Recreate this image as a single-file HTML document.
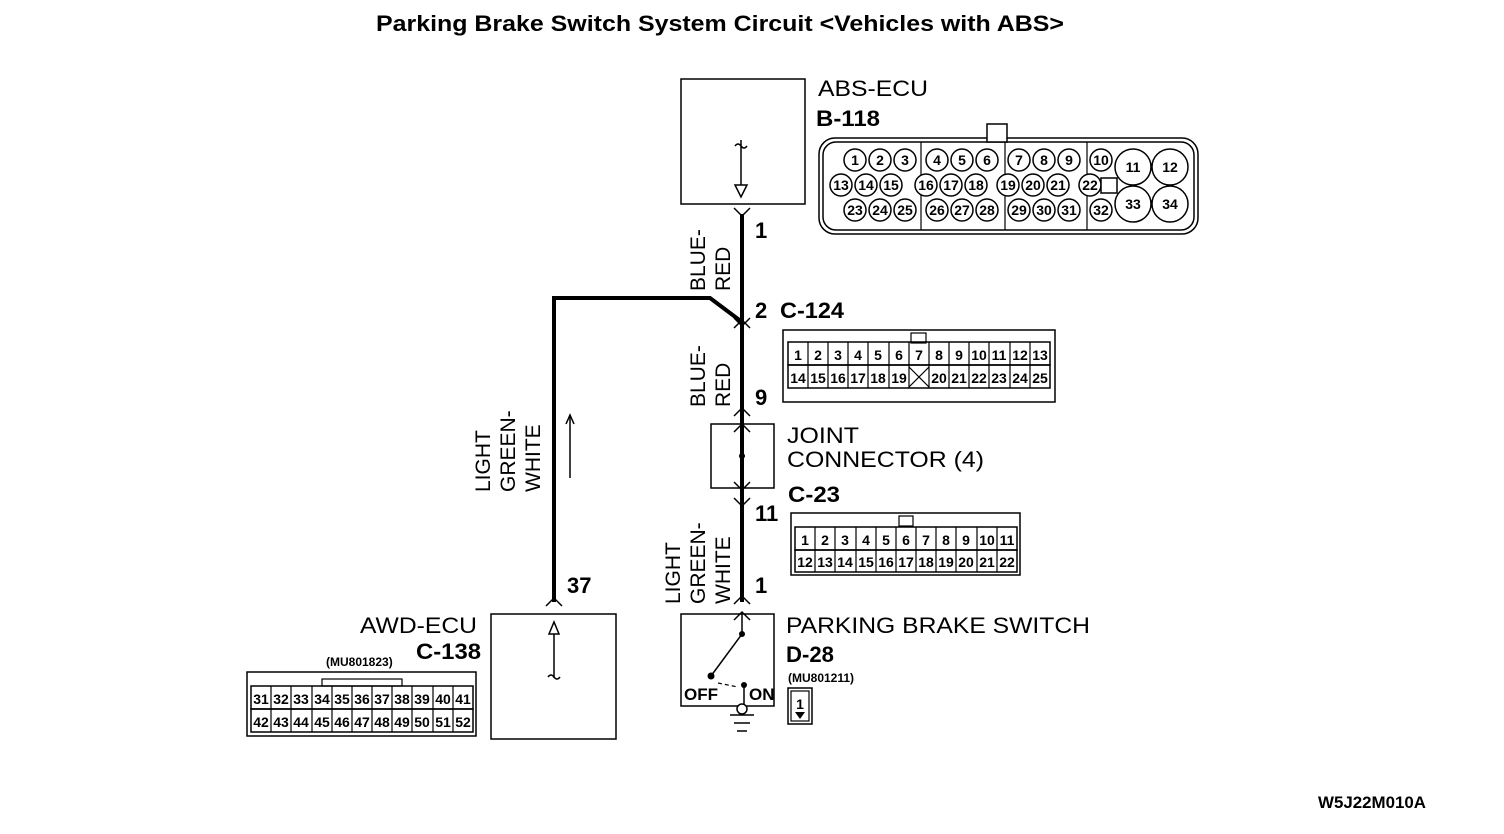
<!DOCTYPE html>
<html><head><meta charset="utf-8"><style>
html,body{margin:0;padding:0;background:#fff;}
svg{display:block;}
text{font-family:"Liberation Sans",sans-serif;fill:#000;}
.b{font-weight:bold;}
.n{font-size:14px;font-weight:bold;}
</style></head><body>
<svg width="1504" height="834" viewBox="0 0 1504 834" xmlns="http://www.w3.org/2000/svg">
<rect width="1504" height="834" fill="#fff"/>
<text x="376" y="31" class="b" font-size="22" textLength="688" lengthAdjust="spacingAndGlyphs">Parking Brake Switch System Circuit &lt;Vehicles with ABS&gt;</text>

<!-- ABS ECU box -->
<rect x="681" y="79" width="124" height="125" fill="none" stroke="#000" stroke-width="1.5"/>
<line x1="741" y1="140" x2="741" y2="185" stroke="#000" stroke-width="1.5"/>
<path d="M735 146 q3 -4 6 0 q3 4 6 0" fill="none" stroke="#000" stroke-width="1.5"/>
<path d="M735 185 L747 185 L741 197 Z" fill="#fff" stroke="#000" stroke-width="1.5"/>
<text x="818" y="96" font-size="22" textLength="110" lengthAdjust="spacingAndGlyphs">ABS-ECU</text>
<text x="816" y="126" font-size="22" class="b" textLength="64" lengthAdjust="spacingAndGlyphs">B-118</text>

<!-- ABS connector -->
<rect x="819" y="138" width="379" height="96" rx="16" fill="none" stroke="#000" stroke-width="1.5"/>
<rect x="823" y="142" width="371" height="88" rx="13" fill="none" stroke="#000" stroke-width="1.5"/>
<rect x="987" y="124" width="20" height="18" fill="#fff" stroke="#000" stroke-width="1.5"/>
<g stroke="#000" stroke-width="1.2">
<line x1="921" y1="142" x2="921" y2="230"/><line x1="1005" y1="142" x2="1005" y2="230"/><line x1="1087" y1="142" x2="1087" y2="230"/>
</g>
<g fill="#fff" stroke="#000" stroke-width="1.5">
<circle cx="855" cy="160" r="11"/><circle cx="880" cy="160" r="11"/><circle cx="905" cy="160" r="11"/>
<circle cx="937" cy="160" r="11"/><circle cx="962" cy="160" r="11"/><circle cx="987" cy="160" r="11"/>
<circle cx="1019" cy="160" r="11"/><circle cx="1044" cy="160" r="11"/><circle cx="1069" cy="160" r="11"/>
<circle cx="1101" cy="160" r="11"/>
<circle cx="841" cy="185" r="11"/><circle cx="866" cy="185" r="11"/><circle cx="891" cy="185" r="11"/>
<circle cx="926" cy="185" r="11"/><circle cx="951" cy="185" r="11"/><circle cx="976" cy="185" r="11"/>
<circle cx="1008" cy="185" r="11"/><circle cx="1033" cy="185" r="11"/><circle cx="1058" cy="185" r="11"/>
<circle cx="1090" cy="185" r="11"/>
<circle cx="855" cy="210" r="11"/><circle cx="880" cy="210" r="11"/><circle cx="905" cy="210" r="11"/>
<circle cx="937" cy="210" r="11"/><circle cx="962" cy="210" r="11"/><circle cx="987" cy="210" r="11"/>
<circle cx="1019" cy="210" r="11"/><circle cx="1044" cy="210" r="11"/><circle cx="1069" cy="210" r="11"/>
<circle cx="1101" cy="210" r="11"/>
<circle cx="1133" cy="167" r="18"/><circle cx="1170" cy="167" r="18"/>
<circle cx="1133" cy="204" r="18"/><circle cx="1170" cy="204" r="18"/>
<rect x="1101" y="178" width="16" height="15"/>
</g>
<g class="n" text-anchor="middle">
<text x="855" y="165">1</text><text x="880" y="165">2</text><text x="905" y="165">3</text>
<text x="937" y="165">4</text><text x="962" y="165">5</text><text x="987" y="165">6</text>
<text x="1019" y="165">7</text><text x="1044" y="165">8</text><text x="1069" y="165">9</text><text x="1101" y="165">10</text>
<text x="841" y="190">13</text><text x="866" y="190">14</text><text x="891" y="190">15</text>
<text x="926" y="190">16</text><text x="951" y="190">17</text><text x="976" y="190">18</text>
<text x="1008" y="190">19</text><text x="1033" y="190">20</text><text x="1058" y="190">21</text><text x="1090" y="190">22</text>
<text x="855" y="215">23</text><text x="880" y="215">24</text><text x="905" y="215">25</text>
<text x="937" y="215">26</text><text x="962" y="215">27</text><text x="987" y="215">28</text>
<text x="1019" y="215">29</text><text x="1044" y="215">30</text><text x="1069" y="215">31</text><text x="1101" y="215">32</text>
<text x="1133" y="172">11</text><text x="1170" y="172">12</text><text x="1133" y="209">33</text><text x="1170" y="209">34</text>
</g>

<!-- wires -->
<g stroke="#000" stroke-width="4" fill="none">
<line x1="742" y1="214" x2="742" y2="602"/>
<polyline points="742,322 710,298 554,298 554,602"/>
</g>
<g stroke="#000" stroke-width="1.5" fill="none">
<polyline points="734,208 742,216 750,208"/>
<polyline points="734,318 742,326 750,318"/><polyline points="734,328 742,320 750,328"/>
<polyline points="734,416 742,408 750,416"/>
<polyline points="734,432 742,424 750,432"/>
<polyline points="734,482 742,490 750,482"/><polyline points="734,498 742,506 750,498"/>
<polyline points="734,604 742,596 750,604"/><polyline points="734,620 742,612 750,620"/>
<polyline points="546,606 554,598 562,606"/>
<line x1="570" y1="415" x2="570" y2="478"/><polyline points="566,424 570,415 574,424"/>
</g>
<text x="755" y="238" font-size="22" class="b">1</text>
<text x="755" y="318" font-size="22" class="b">2</text>
<text x="780" y="318" font-size="22" class="b" textLength="64" lengthAdjust="spacingAndGlyphs">C-124</text>
<text x="755" y="405" font-size="22" class="b">9</text>
<text x="755" y="521" font-size="22" class="b">11</text>
<text x="788" y="502" font-size="22" class="b" textLength="52" lengthAdjust="spacingAndGlyphs">C-23</text>
<text x="755" y="593" font-size="22" class="b">1</text>
<text x="567" y="593" font-size="22" class="b">37</text>

<!-- rotated wire labels -->
<g font-size="21">
<text transform="translate(705,291) rotate(-90)">BLUE-</text>
<text transform="translate(730,291) rotate(-90)">RED</text>
<text transform="translate(705,407) rotate(-90)">BLUE-</text>
<text transform="translate(730,407) rotate(-90)">RED</text>
<text transform="translate(490,492) rotate(-90)">LIGHT</text>
<text transform="translate(515,492) rotate(-90)">GREEN-</text>
<text transform="translate(540,492) rotate(-90)">WHITE</text>
<text transform="translate(680,604) rotate(-90)">LIGHT</text>
<text transform="translate(705,604) rotate(-90)">GREEN-</text>
<text transform="translate(730,604) rotate(-90)">WHITE</text>
</g>

<!-- C-124 connector -->
<rect x="783" y="330" width="272" height="72" fill="none" stroke="#000" stroke-width="1.5"/>
<rect x="911" y="333" width="15" height="10" fill="none" stroke="#000" stroke-width="1.2"/>
<g stroke="#000" stroke-width="1.5" fill="none">
<rect x="788" y="342" width="262" height="23"/><rect x="788" y="365" width="262" height="23"/>
</g>
<g stroke="#000" stroke-width="1.2">
<line x1="808" y1="342" x2="808" y2="388"/><line x1="828" y1="342" x2="828" y2="388"/><line x1="848" y1="342" x2="848" y2="388"/><line x1="868" y1="342" x2="868" y2="388"/><line x1="889" y1="342" x2="889" y2="388"/><line x1="909" y1="342" x2="909" y2="388"/><line x1="929" y1="342" x2="929" y2="388"/><line x1="949" y1="342" x2="949" y2="388"/><line x1="969" y1="342" x2="969" y2="388"/><line x1="989" y1="342" x2="989" y2="388"/><line x1="1010" y1="342" x2="1010" y2="388"/><line x1="1030" y1="342" x2="1030" y2="388"/>
<line x1="909" y1="367" x2="929" y2="387"/><line x1="929" y1="367" x2="909" y2="387"/>
</g>
<g class="n" text-anchor="middle" font-size="15">
<text x="798" y="360">1</text><text x="818" y="360">2</text><text x="838" y="360">3</text><text x="858" y="360">4</text><text x="878" y="360">5</text><text x="899" y="360">6</text><text x="919" y="360">7</text><text x="939" y="360">8</text><text x="959" y="360">9</text><text x="979" y="360">10</text><text x="999" y="360">11</text><text x="1020" y="360">12</text><text x="1040" y="360">13</text>
<text x="798" y="383">14</text><text x="818" y="383">15</text><text x="838" y="383">16</text><text x="858" y="383">17</text><text x="878" y="383">18</text><text x="899" y="383">19</text><text x="939" y="383">20</text><text x="959" y="383">21</text><text x="979" y="383">22</text><text x="999" y="383">23</text><text x="1020" y="383">24</text><text x="1040" y="383">25</text>
</g>

<!-- joint connector -->
<rect x="711" y="424" width="63" height="64" fill="none" stroke="#000" stroke-width="1.5"/>
<circle cx="742" cy="456" r="3"/>
<text x="787" y="443" font-size="22" textLength="72" lengthAdjust="spacingAndGlyphs">JOINT</text>
<text x="787" y="467" font-size="22" textLength="197" lengthAdjust="spacingAndGlyphs">CONNECTOR (4)</text>

<!-- C-23 connector -->
<rect x="791" y="513" width="229" height="62" fill="none" stroke="#000" stroke-width="1.5"/>
<rect x="899" y="516" width="14" height="10" fill="none" stroke="#000" stroke-width="1.2"/>
<g stroke="#000" stroke-width="1.5" fill="none">
<rect x="795" y="527" width="222" height="23"/><rect x="795" y="550" width="222" height="22"/>
</g>
<g stroke="#000" stroke-width="1.2">
<line x1="815" y1="527" x2="815" y2="572"/><line x1="835" y1="527" x2="835" y2="572"/><line x1="856" y1="527" x2="856" y2="572"/><line x1="876" y1="527" x2="876" y2="572"/><line x1="896" y1="527" x2="896" y2="572"/><line x1="916" y1="527" x2="916" y2="572"/><line x1="936" y1="527" x2="936" y2="572"/><line x1="956" y1="527" x2="956" y2="572"/><line x1="977" y1="527" x2="977" y2="572"/><line x1="997" y1="527" x2="997" y2="572"/>
</g>
<g class="n" text-anchor="middle" font-size="15">
<text x="805" y="545">1</text><text x="825" y="545">2</text><text x="845" y="545">3</text><text x="866" y="545">4</text><text x="886" y="545">5</text><text x="906" y="545">6</text><text x="926" y="545">7</text><text x="946" y="545">8</text><text x="966" y="545">9</text><text x="987" y="545">10</text><text x="1007" y="545">11</text>
<text x="805" y="567">12</text><text x="825" y="567">13</text><text x="845" y="567">14</text><text x="866" y="567">15</text><text x="886" y="567">16</text><text x="906" y="567">17</text><text x="926" y="567">18</text><text x="946" y="567">19</text><text x="966" y="567">20</text><text x="987" y="567">21</text><text x="1007" y="567">22</text>
</g>

<!-- parking brake switch -->
<rect x="681" y="614" width="93" height="92" fill="none" stroke="#000" stroke-width="1.5"/>
<line x1="742" y1="614" x2="742" y2="634" stroke="#000" stroke-width="1.5"/>
<circle cx="742" cy="634" r="3"/>
<line x1="742" y1="634" x2="711" y2="676" stroke="#000" stroke-width="1.5"/>
<circle cx="711" cy="676" r="3.5"/>
<path d="M718 683 L738 687" stroke="#000" stroke-width="1.2" stroke-dasharray="4,3"/>
<circle cx="744" cy="685" r="3"/>
<line x1="744" y1="685" x2="744" y2="704" stroke="#000" stroke-width="1.5"/>
<circle cx="742" cy="709" r="5" fill="#fff" stroke="#000" stroke-width="1.5"/>
<line x1="730" y1="715" x2="754" y2="715" stroke="#000" stroke-width="1.5"/>
<line x1="734" y1="723" x2="750" y2="723" stroke="#000" stroke-width="1.5"/>
<line x1="737" y1="731" x2="747" y2="731" stroke="#000" stroke-width="1.5"/>
<text x="684" y="700" font-size="17" class="b">OFF</text>
<text x="749" y="700" font-size="17" class="b">ON</text>
<text x="786" y="633" font-size="22" textLength="304" lengthAdjust="spacingAndGlyphs">PARKING BRAKE SWITCH</text>
<text x="786" y="662" font-size="22" class="b" textLength="48" lengthAdjust="spacingAndGlyphs">D-28</text>
<text x="788" y="682" font-size="12" class="b">(MU801211)</text>
<rect x="788" y="688" width="24" height="36" fill="none" stroke="#000" stroke-width="1.5"/>
<rect x="791" y="691" width="18" height="30" fill="none" stroke="#000" stroke-width="1.2"/>
<text x="800" y="709" font-size="14" class="b" text-anchor="middle">1</text>
<path d="M795 712 L805 712 L800 719 Z"/>

<!-- AWD ECU -->
<rect x="491" y="614" width="125" height="125" fill="none" stroke="#000" stroke-width="1.5"/>
<path d="M549 634 L559 634 L554 622 Z" fill="#fff" stroke="#000" stroke-width="1.5"/>
<line x1="554" y1="634" x2="554" y2="678" stroke="#000" stroke-width="1.5"/>
<path d="M548 677 q3 -4 6 0 q3 4 6 0" fill="none" stroke="#000" stroke-width="1.5"/>
<text x="360" y="633" font-size="22" textLength="117" lengthAdjust="spacingAndGlyphs">AWD-ECU</text>
<text x="416" y="659" font-size="22" class="b" textLength="65" lengthAdjust="spacingAndGlyphs">C-138</text>
<text x="326" y="666" font-size="12" class="b">(MU801823)</text>

<!-- C-138 connector -->
<rect x="247" y="672" width="229" height="64" fill="none" stroke="#000" stroke-width="1.5"/>
<rect x="322" y="679" width="80" height="7" fill="none" stroke="#000" stroke-width="1.2"/>
<g stroke="#000" stroke-width="1.5" fill="none">
<rect x="251" y="686" width="222" height="23"/><rect x="251" y="709" width="222" height="23"/>
</g>
<g stroke="#000" stroke-width="1.2">
<line x1="271" y1="686" x2="271" y2="732"/><line x1="291" y1="686" x2="291" y2="732"/><line x1="312" y1="686" x2="312" y2="732"/><line x1="332" y1="686" x2="332" y2="732"/><line x1="352" y1="686" x2="352" y2="732"/><line x1="372" y1="686" x2="372" y2="732"/><line x1="392" y1="686" x2="392" y2="732"/><line x1="412" y1="686" x2="412" y2="732"/><line x1="433" y1="686" x2="433" y2="732"/><line x1="453" y1="686" x2="453" y2="732"/>
</g>
<g class="n" text-anchor="middle" font-size="15">
<text x="261" y="704">31</text><text x="281" y="704">32</text><text x="301" y="704">33</text><text x="322" y="704">34</text><text x="342" y="704">35</text><text x="362" y="704">36</text><text x="382" y="704">37</text><text x="402" y="704">38</text><text x="422" y="704">39</text><text x="443" y="704">40</text><text x="463" y="704">41</text>
<text x="261" y="727">42</text><text x="281" y="727">43</text><text x="301" y="727">44</text><text x="322" y="727">45</text><text x="342" y="727">46</text><text x="362" y="727">47</text><text x="382" y="727">48</text><text x="402" y="727">49</text><text x="422" y="727">50</text><text x="443" y="727">51</text><text x="463" y="727">52</text>
</g>

<text x="1318" y="808" font-size="17" class="b" textLength="108" lengthAdjust="spacingAndGlyphs">W5J22M010A</text>
</svg>
</body></html>
